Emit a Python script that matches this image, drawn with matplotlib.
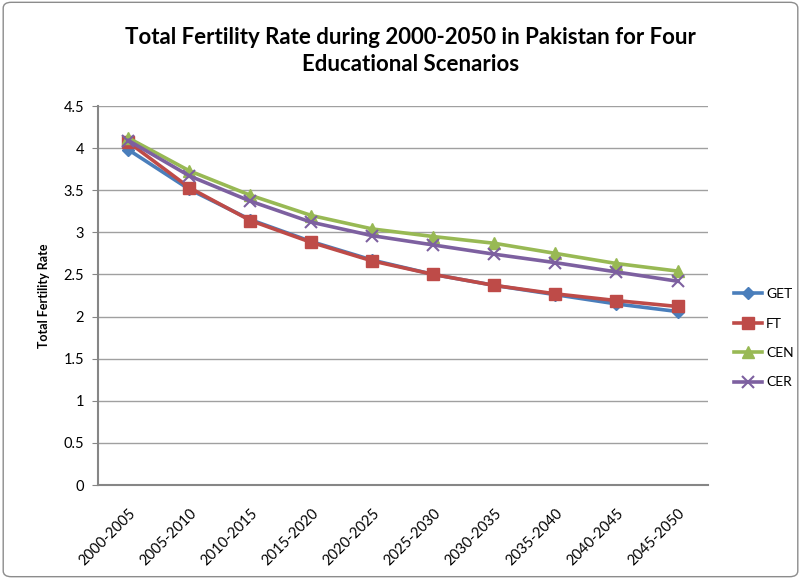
import matplotlib
matplotlib.use('Agg')
import matplotlib.pyplot as plt
from matplotlib.patches import FancyBboxPatch

plt.rcParams['font.family'] = ['Lato', 'DejaVu Sans']

periods = ['2000-2005', '2005-2010', '2010-2015', '2015-2020', '2020-2025',
           '2025-2030', '2030-2035', '2035-2040', '2040-2045', '2045-2050']
get_tfr = [3.98, 3.51, 3.15, 2.89, 2.67, 2.50, 2.37, 2.26, 2.15, 2.06]
ft_tfr = [4.07, 3.53, 3.14, 2.88, 2.66, 2.50, 2.37, 2.27, 2.19, 2.12]
cen_tfr = [4.12, 3.73, 3.44, 3.20, 3.04, 2.95, 2.87, 2.75, 2.63, 2.54]
cer_tfr = [4.09, 3.67, 3.37, 3.12, 2.96, 2.85, 2.74, 2.64, 2.53, 2.42]

fig = plt.figure(figsize=(8.01, 5.79), dpi=100)
ax = fig.add_axes([0.1223, 0.1623, 0.7616, 0.6546])

x = list(range(len(periods)))
ax.plot(x, get_tfr, color='#4A7EBB', lw=2.6, marker='D', ms=6, label='GET')
ax.plot(x, ft_tfr, color='#BE4B48', lw=2.6, marker='s', ms=8, label='FT')
ax.plot(x, cen_tfr, color='#98B954', lw=2.6, marker='^', ms=8, label='CEN')
ax.plot(x, cer_tfr, color='#7D60A0', lw=2.6, marker='x', ms=8, mew=1.5, label='CER')

ax.set_xlim(-0.5, len(periods) - 0.5)
ax.set_ylim(0, 4.5)
ax.set_yticks([0, 0.5, 1, 1.5, 2, 2.5, 3, 3.5, 4, 4.5])
ax.set_yticklabels(['0', '0.5', '1', '1.5', '2', '2.5', '3', '3.5', '4', '4.5'])
ax.set_xticks(x)
ax.set_xticklabels(periods, rotation=45, ha='right', rotation_mode='anchor')
ax.tick_params(axis='x', length=0, pad=15, labelsize=10.5)
ax.tick_params(axis='y', length=4, direction='out', color='#868686', labelsize=10.5, pad=6)
ax.grid(axis='y', color='#A0A0A0', lw=1)
ax.set_axisbelow(True)
for s in ['top', 'right']:
    ax.spines[s].set_visible(False)
for s in ['left', 'bottom']:
    ax.spines[s].set_color('#868686')
    ax.spines[s].set_linewidth(1.5)

ax.set_ylabel('Total Fertility Rate', fontsize=9, fontweight='bold', labelpad=10)
fig.suptitle('Total Fertility Rate during 2000-2050 in Pakistan for Four\nEducational Scenarios',
             fontsize=16, fontweight='bold', y=0.953, x=0.513, linespacing=1.35)

ax.legend(loc='center left', bbox_to_anchor=(1.043, 0.387), frameon=False,
          fontsize=10, handlelength=2.0, labelspacing=1.25, handletextpad=0.3,
          borderaxespad=0, borderpad=0)

fig.patches.append(FancyBboxPatch((0.004, 0.004), 0.992, 0.992, boxstyle='round,pad=0,rounding_size=0.01',
                                  transform=fig.transFigure, fill=False, ec='#8C8C8C', lw=1))

fig.savefig('out.png', dpi=100)
